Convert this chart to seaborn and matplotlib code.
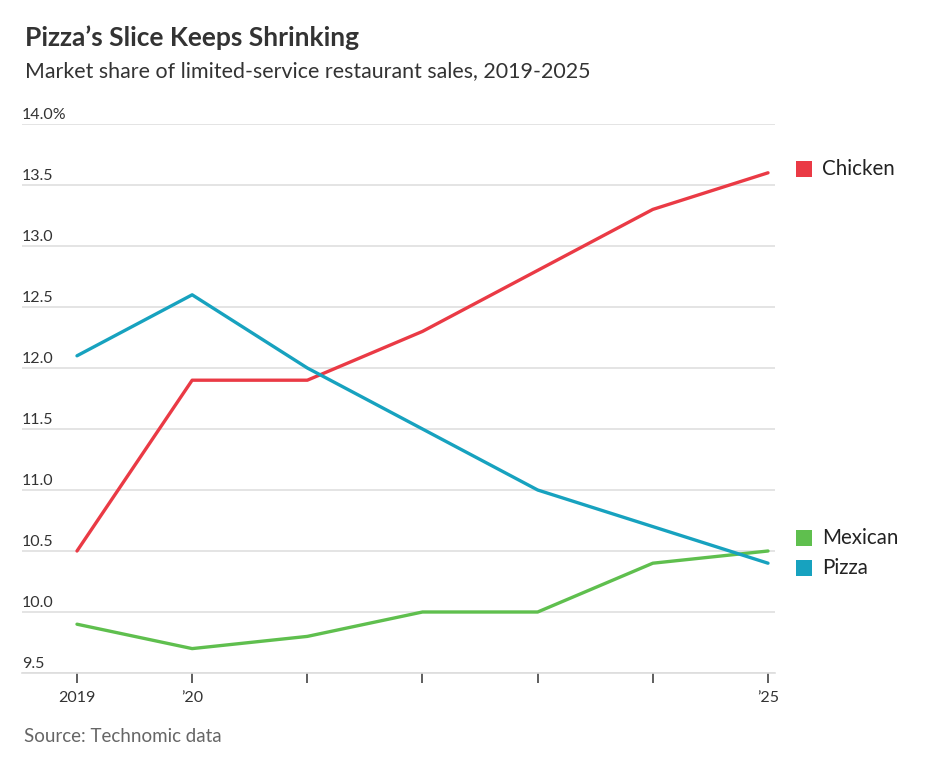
import matplotlib
matplotlib.use("Agg")
import matplotlib.pyplot as plt
import matplotlib.transforms as mtransforms
import seaborn as sns
import pandas as pd

years = [2019, 2020, 2021, 2022, 2023, 2024, 2025]
chicken = [10.5, 11.9, 11.9, 12.3, 12.8, 13.3, 13.6]
pizza = [12.1, 12.6, 12.0, 11.5, 11.0, 10.7, 10.4]
mexican = [9.9, 9.7, 9.8, 10.0, 10.0, 10.4, 10.5]
series_names = ["Chicken", "Mexican", "Pizza"]
colors = {"Chicken": "#ea3a45", "Mexican": "#5fbf4e", "Pizza": "#17a2bf"}
x_tick_labels = ["2019", "\u201920", "", "", "", "", "\u201925"]
y_ticks = [9.5, 10.0, 10.5, 11.0, 11.5, 12.0, 12.5, 13.0, 13.5, 14.0]
y_tick_labels = ["9.5", "10.0", "10.5", "11.0", "11.5", "12.0", "12.5", "13.0", "13.5", "14.0%"]

df = pd.DataFrame({
    "year": years * 3,
    "share": chicken + mexican + pizza,
    "series": ["Chicken"] * 7 + ["Mexican"] * 7 + ["Pizza"] * 7,
})

sns.set_theme(style="white")
plt.rcParams["font.family"] = ["Lato", "DejaVu Sans"]

fig = plt.figure(figsize=(9.36, 7.63), dpi=100)
ax = fig.add_axes([22 / 936, 1 - 673 / 763, 753 / 936, 549 / 763])

sns.lineplot(data=df, x="year", y="share", hue="series", hue_order=series_names,
             palette=colors, linewidth=2.4, ax=ax, legend=False)

ax.set_xlim(2019 - 55 / 115.2, 2025 + 7 / 115.2)
ax.set_ylim(9.5, 14.0)
ax.set_xlabel("")
ax.set_ylabel("")

for s in ["top", "right", "left"]:
    ax.spines[s].set_visible(False)
ax.spines["bottom"].set_color("#dddddd")
ax.spines["bottom"].set_linewidth(1.2)

ax.set_yticks(y_ticks)
ax.set_yticklabels([])
ax.tick_params(axis="y", length=0, left=False)
ax.yaxis.grid(True, color="#dddddd", linewidth=1.1)
ax.set_axisbelow(True)

ax.set_xticks(years)
ax.set_xticklabels(x_tick_labels, fontsize=11.5, color="#333333")
ax.tick_params(axis="x", bottom=True, length=7, width=1.1, color="#333333",
               pad=6, direction="out")

# y tick labels sitting above the gridlines, left aligned
ytrans = mtransforms.blended_transform_factory(ax.transAxes, ax.transData)
off = mtransforms.offset_copy(ytrans, fig=fig, x=0, y=1.5, units="points")
for v, lab in zip(y_ticks, y_tick_labels):
    ax.text(0.0, v, lab, transform=off, ha="left", va="bottom", fontsize=11.5,
            color="#333333")

# direct labels at line ends
last = {"Chicken": chicken[-1], "Mexican": mexican[-1], "Pizza": pizza[-1]}
order = sorted(series_names, key=lambda n: last[n])
min_gap = 0.245
pos = {}
mid = (last[order[0]] + last[order[1]]) / 2 + 0.035
pos[order[0]] = mid - min_gap / 2
pos[order[1]] = mid + min_gap / 2
pos[order[2]] = max(last[order[2]], pos[order[1]] + min_gap) + 0.03
for n in series_names:
    ax.scatter([1.0385], [pos[n]], transform=ytrans, marker="s", s=117,
               color=colors[n], clip_on=False, linewidths=0)
    ax.text(1.0624, pos[n], n, transform=ytrans, ha="left", va="center",
            fontsize=14.8, color="#222222")

fig.text(25 / 936, 1 - 38 / 763, "Pizza\u2019s Slice Keeps Shrinking", fontsize=19,
         fontweight="bold", color="#333333", ha="left", va="center")
fig.text(25 / 936, 1 - 71 / 763, "Market share of limited-service restaurant sales, 2019-2025",
         fontsize=15.4, color="#333333", ha="left", va="center")
fig.text(24 / 936, 1 - 737 / 763, "Source: Technomic data", fontsize=13.5,
         color="#666666", ha="left", va="center")

fig.savefig("out.png", dpi=100, facecolor="white")
